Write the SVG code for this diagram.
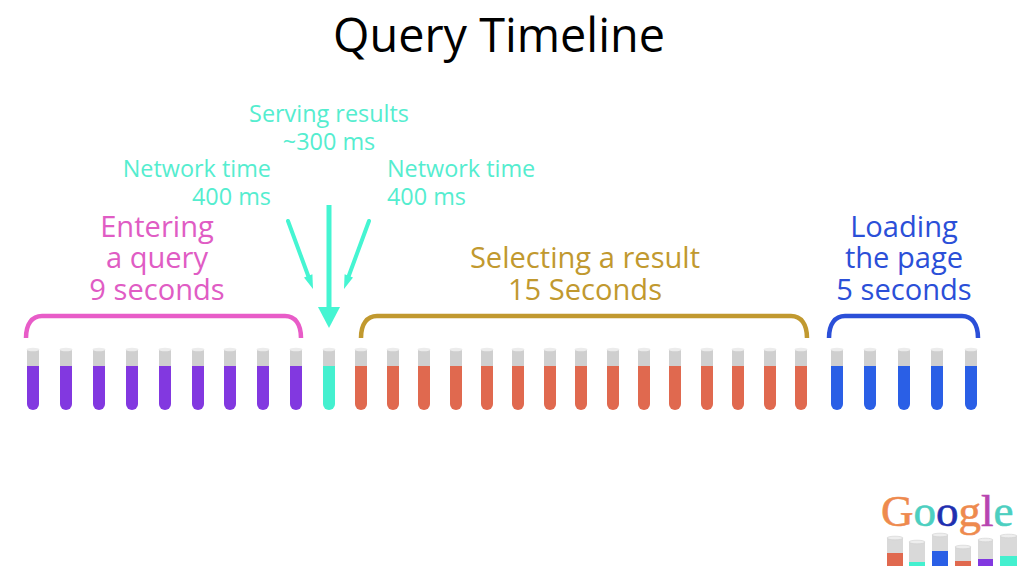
<svg xmlns="http://www.w3.org/2000/svg" width="1024" height="588" viewBox="0 0 1024 588">
<style>
text{font-family:"Open Sans","Noto Sans","DejaVu Sans",sans-serif}
.title{font-size:46.8px;fill:#000;text-anchor:middle}
.teal{font-size:23.4px;fill:#55edcf}
.m{text-anchor:middle}.e{text-anchor:end}
.big{font-size:29.1px;text-anchor:middle}
.pink{fill:#e05cc4}.gold{fill:#c1992f}.blue{fill:#2b4fd8}
.br{fill:none;stroke-width:4.5;stroke-linecap:butt}
.ar{stroke:#45f5d2;fill:none}
.head{fill:#45f5d2}
.purple{color:#8238e0}.aqua{color:#44f0cf}.red{color:#e0694f}.bl{color:#2a5fe6}
.lg{font-family:"Liberation Serif","Times New Roman",serif;font-size:45px;stroke-width:.6}
.glass{fill:#d9d9d9}.lip{fill:#eeeeee;stroke:#cfcfcf;stroke-width:.6}
</style>
<defs>
<g id="tube">
<rect x="-6" y="349" width="12" height="20" fill="#cfcfcf"/>
<ellipse cx="0" cy="349.5" rx="6.5" ry="1.8" fill="#ececec"/>
<path d="M-6 366H6V404a6 6 0 0 1-12 0Z" fill="currentColor"/>
</g>
</defs>
<rect width="1024" height="588" fill="#fff"/>
<text class="title" x="499" y="52">Query Timeline</text>
<g id="labels-network">
<text class="teal m" x="329" y="122">Serving results</text>
<text class="teal m" x="329" y="150">~300 ms</text>
<text class="teal e" x="271" y="177">Network time</text>
<text class="teal e" x="271" y="205">400 ms</text>
<text class="teal" x="387" y="177">Network time</text>
<text class="teal" x="387" y="205">400 ms</text>
</g>
<g id="label-entering">
<text class="big pink" x="157" y="237">Entering</text>
<text class="big pink" x="157" y="268">a query</text>
<text class="big pink" x="157" y="300">9 seconds</text>
</g>
<g id="label-selecting">
<text class="big gold" x="585" y="268">Selecting a result</text>
<text class="big gold" x="585" y="300">15 Seconds</text>
</g>
<g id="label-loading">
<text class="big blue" x="904" y="237">Loading</text>
<text class="big blue" x="904" y="268">the page</text>
<text class="big blue" x="904" y="300">5 seconds</text>
</g>
<g id="connectors">
<path class="br" stroke="#e85cc8" d="M26 338C26 324 32 316 42 316H285C295 316 301 324 301 338"/>
<path class="br" stroke="#c1992f" d="M361 338C361 324 367 316 377 316H791C801 316 807 324 807 338"/>
<path class="br" stroke="#2b4fd8" d="M829 338C829 324 835 316 845 316H962C972 316 978 324 978 338"/>
<path class="ar" stroke-width="5" d="M329 205V310"/>
<path class="head" d="M318 307H340L329 328Z"/>
<path class="ar" stroke-width="4" stroke-linecap="round" d="M288 221L309 278"/>
<path class="head" d="M313 289L312.4 274.3L304 277.4Z"/>
<path class="ar" stroke-width="4" stroke-linecap="round" d="M369 221L348 278"/>
<path class="head" d="M344 289L344.6 274.3L353 277.4Z"/>
</g>
<g id="tubes-query" class="purple">
<use href="#tube" x="33"/><use href="#tube" x="66"/><use href="#tube" x="99"/><use href="#tube" x="132"/><use href="#tube" x="165"/><use href="#tube" x="198"/><use href="#tube" x="230"/><use href="#tube" x="263"/><use href="#tube" x="296"/>
</g>
<g id="tube-serving" class="aqua"><use href="#tube" x="329"/></g>
<g id="tubes-selecting" class="red">
<use href="#tube" x="361"/><use href="#tube" x="393"/><use href="#tube" x="424"/><use href="#tube" x="456"/><use href="#tube" x="487"/><use href="#tube" x="518"/><use href="#tube" x="550"/><use href="#tube" x="581"/><use href="#tube" x="613"/><use href="#tube" x="644"/><use href="#tube" x="675"/><use href="#tube" x="707"/><use href="#tube" x="738"/><use href="#tube" x="770"/><use href="#tube" x="801"/>
</g>
<g id="tubes-loading" class="bl">
<use href="#tube" x="837"/><use href="#tube" x="870"/><use href="#tube" x="904"/><use href="#tube" x="937"/><use href="#tube" x="971"/>
</g>
<g id="logo">
<text class="lg" x="881" y="526"><tspan fill="#ee8a4e" stroke="#ee8a4e">G</tspan><tspan fill="#4ccfc0" stroke="#4ccfc0">o</tspan><tspan fill="#1f2fb0" stroke="#1f2fb0">o</tspan><tspan fill="#ee8a4e" stroke="#ee8a4e">g</tspan><tspan fill="#b845b0" stroke="#b845b0">l</tspan><tspan fill="#4ccfc0" stroke="#4ccfc0">e</tspan></text>
<g class="glass">
<rect x="887" y="538" width="16" height="28"/><rect x="909" y="542" width="16" height="24"/><rect x="932" y="535" width="16" height="31"/><rect x="955" y="547" width="16" height="19"/><rect x="978" y="540" width="15" height="26"/><rect x="1000" y="536" width="17" height="30"/>
</g>
<g class="lip">
<ellipse cx="895" cy="538" rx="8" ry="1.8"/><ellipse cx="917" cy="542" rx="8" ry="1.8"/><ellipse cx="940" cy="535" rx="8" ry="1.8"/><ellipse cx="963" cy="547" rx="8" ry="1.8"/><ellipse cx="985.500" cy="540" rx="7.500" ry="1.8"/><ellipse cx="1008.500" cy="536" rx="8.500" ry="1.8"/>
</g>
<rect x="887" y="553" width="16" height="13" fill="#e0694f"/>
<rect x="909" y="562" width="16" height="4" fill="#44f0cf"/>
<rect x="932" y="551" width="16" height="15" fill="#2a5fe6"/>
<rect x="955" y="561" width="16" height="5" fill="#e0694f"/>
<rect x="978" y="559" width="15" height="7" fill="#8238e0"/>
<rect x="1000" y="556" width="17" height="10" fill="#44f0cf"/>
</g>
</svg>
